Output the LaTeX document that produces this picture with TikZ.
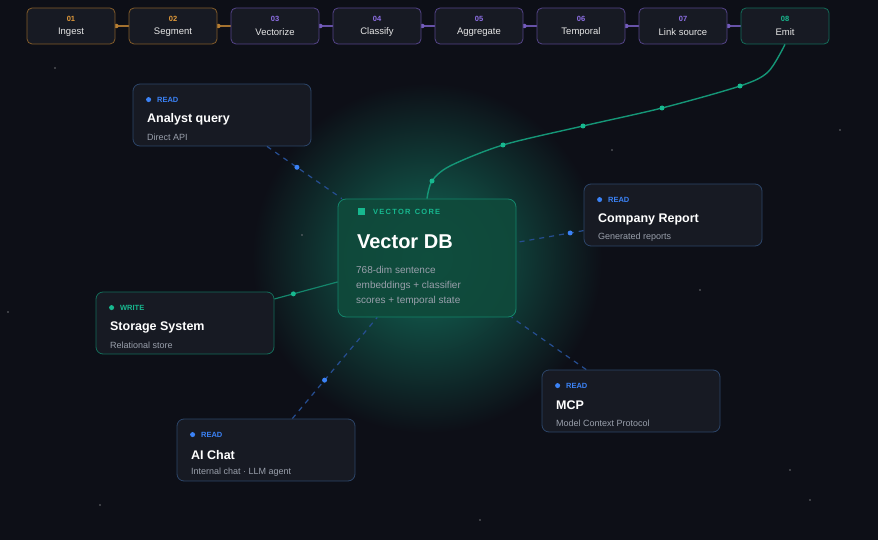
\documentclass[tikz,border=0pt]{standalone}
\usepackage{fontspec}
\setmainfont{Liberation Sans}
\usetikzlibrary{positioning,calc,backgrounds}
\pgfdeclarelayer{bottom}
\pgfsetlayers{bottom,background,main}
\definecolor{bgc}{HTML}{0D0F17}
\definecolor{cardfill}{HTML}{171A23}
\definecolor{cardline}{HTML}{2C4568}
\definecolor{orangec}{HTML}{E39B3A}
\definecolor{purplec}{HTML}{8E6FE6}
\definecolor{tealc}{HTML}{17B88F}
\definecolor{bluec}{HTML}{3B82F6}
\definecolor{subc}{HTML}{9AA0AC}
\definecolor{corefill}{HTML}{0F4A3B}
\tikzset{
stage/.style={rectangle, rounded corners=5pt, draw, line width=0.8pt, fill=cardfill, minimum width=88pt, minimum height=36pt},
card/.style={rectangle, rounded corners=7pt, draw=#1, line width=0.8pt, fill=cardfill, minimum width=178pt, minimum height=62pt},
tag/.style={anchor=west, font=\bfseries\fontsize{7.5}{9}\selectfont, text=#1},
title/.style={anchor=west, font=\bfseries\fontsize{12.5}{14}\selectfont, text=white},
sub/.style={anchor=west, font=\fontsize{9}{11}\selectfont, text=subc},
link/.style={dash pattern=on 5pt off 5pt, line width=1.2pt, draw=bluec!55!bgc},
dot/.style={circle, fill=#1, inner sep=0pt, minimum size=5pt},
}
\begin{document}
\begin{tikzpicture}[x=1pt, y=-1pt]
\begin{pgfonlayer}{bottom}
\fill[bgc] (0,0) rectangle (878,540);
\shade[inner color=tealc!55!bgc, outer color=bgc] (427,258) circle (175);
\draw[tealc!25!bgc, line width=0.6pt] (427,258) circle (95);
% stars
\foreach \sx/\sy in {55/68, 302/235, 215/323, 8/312, 100/505, 700/290, 790/470, 840/130, 810/500, 612/150, 480/520}
  \fill[white!40!bgc] (\sx,\sy) circle (0.8);
\end{pgfonlayer}

%Pipeline
\foreach \i/\num/\name/\col in {1/01/Ingest/orangec, 2/02/Segment/orangec, 3/03/Vectorize/purplec, 4/04/Classify/purplec, 5/05/Aggregate/purplec, 6/06/Temporal/purplec, 7/07/Link source/purplec, 8/08/Emit/tealc}{
  \node[stage, draw=\col!55!bgc] (p\i) at ({71+102*(\i-1)},26) {};
  \node[font=\bfseries\fontsize{7.5}{9}\selectfont, text=\col] at ($(p\i.center)+(0,-7)$) {\num};
  \node[font=\fontsize{9.5}{11}\selectfont, text=white!90!black] (pl\i) at ($(p\i.center)+(0,6)$) {\name};
}
\begin{scope}[on background layer]
\foreach \i/\j/\col in {1/2/orangec, 2/3/orangec, 3/4/purplec, 4/5/purplec, 5/6/purplec, 6/7/purplec, 7/8/purplec}{
  \draw[\col!70!bgc, line width=1.2pt] (p\i.center) -- (p\j.west);
  \node[dot=\col!80!bgc, minimum size=4.5pt] at ($(p\i.east)+(1,0)$) {};
}
\end{scope}

%Core
\node[rectangle, rounded corners=8pt, draw=tealc!70!bgc, line width=0.8pt, fill=corefill, fill opacity=0.9, minimum width=178pt, minimum height=118pt] (core) at (427,258) {};
\fill[tealc] ($(core.north west)+(20,9)$) rectangle +(7,7);
\node[tag=tealc, font=\bfseries\fontsize{7.5}{9}\selectfont] at ($(core.north west)+(32,13)$) {V\,E\,C\,T\,O\,R\ \ C\,O\,R\,E};
\node[anchor=west, font=\bfseries\fontsize{20}{24}\selectfont, text=white] at ($(core.north west)+(16,43)$) {Vector DB};
\node[anchor=north west, align=left, font=\fontsize{10}{15}\selectfont, text=subc] at ($(core.north west)+(15,64)$) {768-dim sentence\\embeddings + classifier\\scores + temporal state};

%Cards
\node[card=cardline] (aq) at (222,115) {};
\node[card=cardline] (cr) at (673,215) {};
\node[card=tealc!55!bgc] (ss) at (185,323) {};
\node[card=cardline] (ai) at (266,450) {};
\node[card=cardline] (mcp) at (631,401) {};
\foreach \n/\t/\ti/\su/\c in {aq/READ/Analyst query/Direct API/bluec, cr/READ/Company Report/Generated reports/bluec, ss/WRITE/Storage System/Relational store/tealc, ai/READ/AI Chat/Internal chat · LLM agent/bluec, mcp/READ/MCP/Model Context Protocol/bluec}{
  \node[dot=\c, minimum size=5pt] at ($(\n.north west)+(16,16)$) {};
  \node[tag=\c] at ($(\n.north west)+(21,16)$) {\t};
  \node[title] at ($(\n.north west)+(11,36)$) {\ti};
  \node[sub] at ($(\n.north west)+(11,54)$) {\su};
}

%Lines
\begin{scope}[on background layer]
\draw[link] (aq) -- (core) node[pos=0.4, dot=bluec] {};
\draw[link] (cr) -- (core) node[pos=0.2, dot=bluec] {};
\draw[link] (ai) -- (core) node[pos=0.38, dot=bluec] {};
\draw[link] (mcp) -- (core);
\draw[tealc!70!bgc, line width=1.2pt] (ss) -- (core) node[pos=0.3, dot=tealc] {};
\end{scope}
\draw[tealc!80!bgc, line width=1.4pt] plot[smooth] coordinates {(p8.south) (768,72) (740,86) (662,108) (583,126) (503,145) (450,166) (432,181) (core.north)};
\foreach \c in {(740,86), (662,108), (583,126), (503,145), (432,181)}
  \node[dot=tealc] at \c {};
\end{tikzpicture}
\end{document}
